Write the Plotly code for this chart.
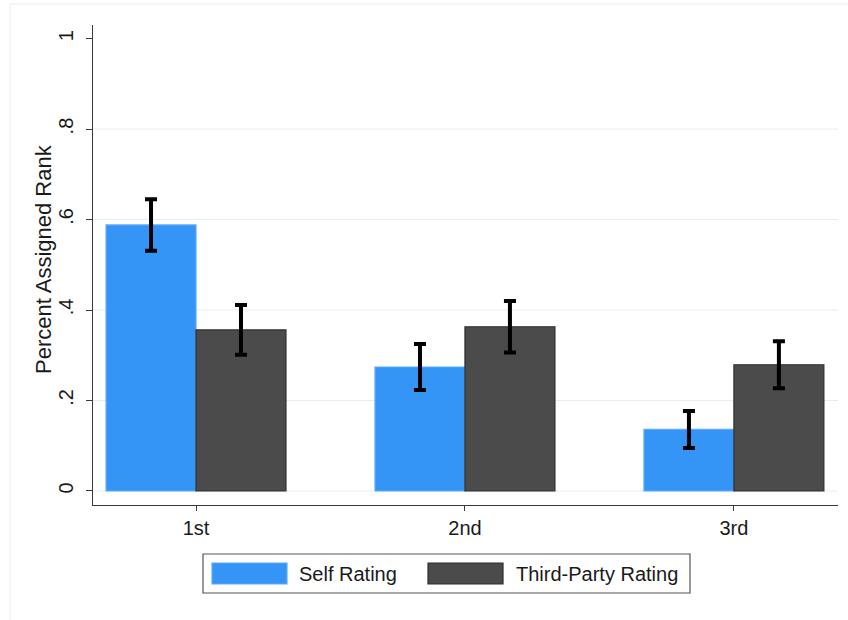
import plotly.graph_objects as go

# Share of respondents assigning each rank, by rating source
ranks = ["1st", "2nd", "3rd"]
self_rating = [0.588, 0.274, 0.136]
self_err = [0.057, 0.051, 0.041]
third_party = [0.356, 0.363, 0.279]
third_err = [0.055, 0.057, 0.052]

y_tickvals = [0, 0.2, 0.4, 0.6, 0.8, 1]
y_ticktext = ["0", ".2", ".4", ".6", ".8", "1"]
grid_vals = [0, 0.2, 0.4, 0.6, 0.8]

series_names = ["Self Rating", "Third-Party Rating"]

W, H = 848, 620
M_L, M_R, M_T, M_B = 93, 10, 25, 115
FONT = "Liberation Sans, Arial, Helvetica, sans-serif"
TXT = "#1a1a1a"
BLUE = "#3595f7"
BLUE_LINE = "#5cacfb"
GRAY = "#4b4b4b"
GRAY_LINE = "#2e2e2e"


def px_x(p):
    return (p - M_L) / (W - M_L - M_R)


def px_y(p):
    return (H - M_B - p) / (H - M_T - M_B)


fig = go.Figure()
fig.add_trace(go.Bar(
    x=ranks, y=self_rating, name=series_names[0],
    marker=dict(color=BLUE, line=dict(color=BLUE_LINE, width=1.2)),
    error_y=dict(type="data", array=self_err, color="black", thickness=4, width=6),
    showlegend=False,
))
fig.add_trace(go.Bar(
    x=ranks, y=third_party, name=series_names[1],
    marker=dict(color=GRAY, line=dict(color=GRAY_LINE, width=1.2)),
    error_y=dict(type="data", array=third_err, color="black", thickness=4, width=6),
    showlegend=False,
))

shapes = []
# horizontal grid lines
for g in grid_vals:
    shapes.append(dict(type="line", xref="paper", yref="y", x0=0, x1=1, y0=g, y1=g,
                       line=dict(color="#e4eef1", width=1), layer="below"))
# faint outer frame
shapes.append(dict(type="rect", xref="paper", yref="paper",
                   x0=px_x(10), x1=px_x(860), y0=px_y(640), y1=px_y(4),
                   line=dict(color="#ececec", width=1), fillcolor="rgba(0,0,0,0)"))
# legend box and swatches
shapes.append(dict(type="rect", xref="paper", yref="paper",
                   x0=px_x(203), x1=px_x(690), y0=px_y(593), y1=px_y(554),
                   line=dict(color="#555555", width=1.2), fillcolor="white"))
shapes.append(dict(type="rect", xref="paper", yref="paper",
                   x0=px_x(212), x1=px_x(287), y0=px_y(584), y1=px_y(563),
                   line=dict(color=BLUE_LINE, width=1.2), fillcolor=BLUE))
shapes.append(dict(type="rect", xref="paper", yref="paper",
                   x0=px_x(428), x1=px_x(503), y0=px_y(584), y1=px_y(563),
                   line=dict(color=GRAY_LINE, width=1.2), fillcolor=GRAY))

annotations = [
    dict(text=series_names[0], xref="paper", yref="paper", x=px_x(297), y=px_y(573.5),
         xanchor="left", yanchor="middle", showarrow=False,
         font=dict(family=FONT, size=20, color=TXT)),
    dict(text=series_names[1], xref="paper", yref="paper", x=px_x(514), y=px_y(573.5),
         xanchor="left", yanchor="middle", showarrow=False,
         font=dict(family=FONT, size=20, color=TXT)),
    dict(text="Percent Assigned Rank", xref="paper", yref="paper", x=px_x(43), y=px_y(259),
         xanchor="center", yanchor="middle", textangle=-90, showarrow=False,
         font=dict(family=FONT, size=22, color=TXT)),
]

fig.update_layout(
    width=W, height=H, autosize=False,
    margin=dict(l=M_L, r=M_R, t=M_T, b=M_B, pad=0),
    paper_bgcolor="white", plot_bgcolor="white",
    barmode="group", bargap=0.331, bargroupgap=0,
    font=dict(family=FONT, size=20, color=TXT),
    shapes=shapes, annotations=annotations,
    showlegend=False,
)
fig.update_xaxes(
    range=[-0.383, 2.387], showgrid=False, zeroline=False,
    showline=True, linecolor="#3a3a3a", linewidth=1,
    ticks="outside", ticklen=5, tickcolor="#3a3a3a",
    tickfont=dict(family=FONT, size=20, color=TXT),
)
fig.update_yaxes(
    range=[-0.031, 1.030], showgrid=False, zeroline=False,
    showline=True, linecolor="#3a3a3a", linewidth=1,
    ticks="outside", ticklen=6, tickcolor="#3a3a3a",
    tickvals=y_tickvals, ticktext=y_ticktext, tickangle=-90,
    ticklabelstandoff=5,
    tickfont=dict(family=FONT, size=20, color=TXT),
)

fig.write_html("out.html")
